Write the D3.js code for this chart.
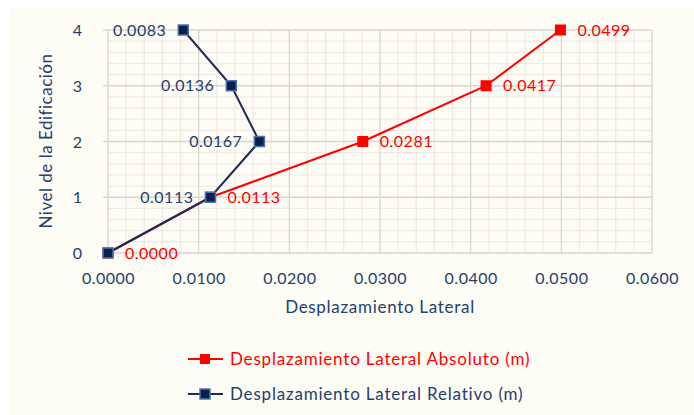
<!DOCTYPE html>
<html>
<head>
<meta charset="utf-8">
<script src="https://cdn.jsdelivr.net/npm/d3@7"></script>
<style>
  html, body { margin: 0; padding: 0; background: #ffffff; }
  svg { display: block; }
  text { font-family: Lato, "Open Sans", sans-serif; }
</style>
</head>
<body>
<svg id="chart" width="694" height="415"></svg>
<script>
// Building levels and lateral displacements (m)
const levels = [0, 1, 2, 3, 4];
const absoluteDisp = [0.0000, 0.0113, 0.0281, 0.0417, 0.0499];
const relativeDisp = [0.0000, 0.0113, 0.0167, 0.0136, 0.0083];
const xTicks = [0, 0.01, 0.02, 0.03, 0.04, 0.05, 0.06];
const yTicks = [0, 1, 2, 3, 4];
const seriesNames = ["Desplazamiento Lateral Absoluto (m)", "Desplazamiento Lateral Relativo (m)"];

const navy = "#24406e";
const red = "#ff0000";

const svg = d3.select("#chart");

// panel background
svg.append("rect").attr("x", 10).attr("y", 8).attr("width", 684).attr("height", 407)
  .attr("fill", "#fdfcf5");

const plot = { left: 108, right: 652, top: 30, bottom: 253 };
const x = d3.scaleLinear().domain([0, 0.06]).range([plot.left, plot.right]);
const y = d3.scaleLinear().domain([0, 4]).range([plot.bottom, plot.top]);

const g = svg.append("g");

// minor grid
const xMinor = d3.range(0, 0.0601, 0.002).filter(v => Math.abs(v / 0.01 - Math.round(v / 0.01)) > 1e-6);
const yMinor = d3.range(0, 4.001, 0.2).filter(v => Math.abs(v - Math.round(v)) > 1e-6);
g.selectAll(".xminor").data(xMinor).join("line")
  .attr("x1", d => x(d)).attr("x2", d => x(d)).attr("y1", plot.top).attr("y2", plot.bottom)
  .attr("stroke", "#f3e9e3").attr("stroke-width", 1.3);
g.selectAll(".yminor").data(yMinor).join("line")
  .attr("x1", plot.left).attr("x2", plot.right).attr("y1", d => y(d)).attr("y2", d => y(d))
  .attr("stroke", "#f3e9e3").attr("stroke-width", 1.3);

// major grid
g.selectAll(".xmajor").data(xTicks).join("line")
  .attr("x1", d => x(d)).attr("x2", d => x(d)).attr("y1", plot.top).attr("y2", plot.bottom)
  .attr("stroke", "#d9d5d0").attr("stroke-width", 1.3);
g.selectAll(".ymajor").data(yTicks).join("line")
  .attr("x1", plot.left).attr("x2", plot.right).attr("y1", d => y(d)).attr("y2", d => y(d))
  .attr("stroke", "#d9d5d0").attr("stroke-width", 1.3);

// tick marks on left axis
g.selectAll(".ytickmark").data(yTicks).join("line")
  .attr("x1", plot.left - 5).attr("x2", plot.left).attr("y1", d => y(d)).attr("y2", d => y(d))
  .attr("stroke", "#d9d5d0").attr("stroke-width", 1.3);

// axes labels via d3 axes
const xAxis = d3.axisBottom(x).tickValues(xTicks).tickFormat(d3.format(".4f")).tickSize(0).tickPadding(0);
const xg = svg.append("g").attr("transform", `translate(0,${plot.bottom + 31})`).call(xAxis);
xg.select(".domain").remove();
xg.selectAll("text").attr("fill", navy).attr("font-size", 16).attr("letter-spacing", 0.5).attr("dy", 0);

const yAxis = d3.axisLeft(y).tickValues(yTicks).tickFormat(d3.format("d")).tickSize(0).tickPadding(0);
const yg = svg.append("g").attr("transform", `translate(${plot.left - 26},0)`).call(yAxis);
yg.select(".domain").remove();
yg.selectAll("text").attr("fill", navy).attr("font-size", 16).attr("dy", "0.35em");

// axis titles
svg.append("text").attr("x", 380).attr("y", 313).attr("text-anchor", "middle")
  .attr("fill", navy).attr("font-size", 17).attr("letter-spacing", 0.7).text("Desplazamiento Lateral");
svg.append("text").attr("transform", "translate(52,141) rotate(-90)").attr("text-anchor", "middle")
  .attr("fill", navy).attr("font-size", 17).attr("letter-spacing", 0.5).text("Nivel de la Edificación");

const line = d3.line().x(d => x(d[0])).y(d => y(d[1]));
const absPts = levels.map((l, i) => [absoluteDisp[i], l]);
const relPts = levels.map((l, i) => [relativeDisp[i], l]);

// absolute series (red)
g.append("path").datum(absPts).attr("d", line).attr("fill", "none").attr("stroke", red).attr("stroke-width", 2);
g.selectAll(".absm").data(absPts).join("rect")
  .attr("x", d => x(d[0]) - 5.5).attr("y", d => y(d[1]) - 5.5).attr("width", 11).attr("height", 11)
  .attr("fill", red);

// relative series (navy)
g.append("path").datum(relPts).attr("d", line).attr("fill", "none").attr("stroke", "#1c2a5c").attr("stroke-width", 2);
g.selectAll(".relm").data(relPts).join("rect")
  .attr("x", d => x(d[0]) - 5).attr("y", d => y(d[1]) - 5).attr("width", 10).attr("height", 10)
  .attr("fill", "#0b1f4f").attr("stroke", "#4d74aa").attr("stroke-width", 1.5);

// value labels
g.selectAll(".absl").data(absPts).join("text")
  .attr("x", d => x(d[0]) + 17).attr("y", d => y(d[1])).attr("dy", "0.35em")
  .attr("fill", red).attr("font-size", 16).attr("letter-spacing", 0.5).text(d => d3.format(".4f")(d[0]));
g.selectAll(".rell").data(relPts.slice(1)).join("text")
  .attr("x", d => x(d[0]) - 17).attr("y", d => y(d[1])).attr("dy", "0.35em").attr("text-anchor", "end")
  .attr("fill", navy).attr("font-size", 16).attr("letter-spacing", 0.5).text(d => d3.format(".4f")(d[0]));

// legend
const legend = svg.append("g");
const legendItems = [
  { name: seriesNames[0], color: red, line: red, fill: red, stroke: "none", y: 359 },
  { name: seriesNames[1], color: navy, line: "#1c2a5c", fill: "#0b1f4f", stroke: "#4d74aa", y: 394 }
];
legendItems.forEach(it => {
  legend.append("line").attr("x1", 188).attr("x2", 223).attr("y1", it.y).attr("y2", it.y)
    .attr("stroke", it.line).attr("stroke-width", 2);
  legend.append("rect").attr("x", 200).attr("y", it.y - 5).attr("width", 10).attr("height", 10)
    .attr("fill", it.fill).attr("stroke", it.stroke).attr("stroke-width", 1.5);
  legend.append("text").attr("x", 230).attr("y", it.y).attr("dy", "0.35em")
    .attr("fill", it.color).attr("font-size", 17).attr("letter-spacing", 0.8).text(it.name);
});
</script>
</body>
</html>
